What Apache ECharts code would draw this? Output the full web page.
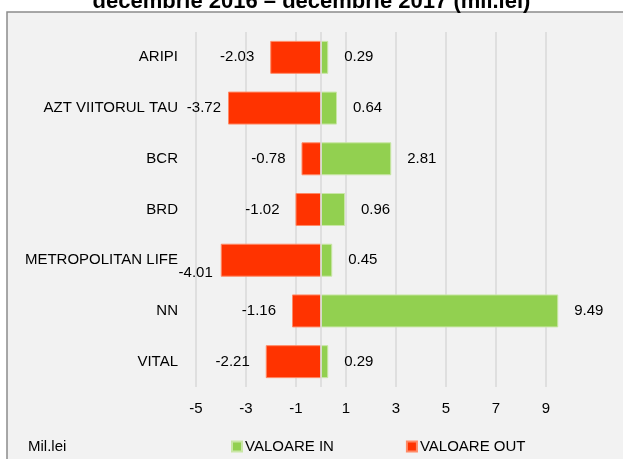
<!DOCTYPE html>
<html>
<head>
<meta charset="utf-8">
<script src="https://cdn.jsdelivr.net/npm/echarts@6/dist/echarts.min.js"></script>
<style>
html,body{margin:0;padding:0;background:#fff;}
#chart{width:623px;height:459px;}
</style>
</head>
<body>
<div id="chart"></div>
<script>
const titleText = 'decembrie 2016 – decembrie 2017 (mil.lei)';
const categories = ['ARIPI', 'AZT VIITORUL TAU', 'BCR', 'BRD', 'METROPOLITAN LIFE', 'NN', 'VITAL'];
const valoareIn = [0.29, 0.64, 2.81, 0.96, 0.45, 9.49, 0.29];
const valoareOut = [-2.03, -3.72, -0.78, -1.02, -4.01, -1.16, -2.21];
const seriesNames = ['VALOARE IN', 'VALOARE OUT'];
const unitLabel = 'Mil.lei';
const axisMin = -5, axisMax = 11, axisStep = 2;

// label placement tweaks (style only)
const outLabelTweaks = {
  1: { distance: 7 },
  4: { distance: 8, offset: [0, 13] }
};

const FONT = '"Liberation Sans", Arial, sans-serif';
const FS = 15;
const chart = echarts.init(document.getElementById('chart'), null, { renderer: 'canvas' });

const outData = valoareOut.map((v, i) => {
  const t = outLabelTweaks[i];
  return t ? { value: v, label: Object.assign({}, t) } : v;
});

const option = {
  backgroundColor: '#ffffff',
  animation: false,
  textStyle: { fontFamily: FONT },
  graphic: [
    {
      type: 'rect', z: -10, silent: true,
      shape: { x: 7, y: 12, width: 640, height: 470 },
      style: { fill: '#f2f2f2', stroke: '#8c8c8c', lineWidth: 1.5 }
    },
    {
      type: 'text', left: 28, top: 439, silent: true,
      style: { text: unitLabel, font: FS + 'px ' + FONT, fill: '#000' }
    }
  ],
  title: {
    text: titleText,
    left: 'center',
    top: -14,
    textStyle: { fontFamily: FONT, fontWeight: 'bold', fontSize: 22, color: '#000' }
  },
  legend: {
    data: seriesNames,
    left: 226,
    top: 434,
    itemWidth: 10,
    itemHeight: 10,
    itemGap: 72,
    icon: 'rect',
    textStyle: { fontFamily: FONT, fontSize: FS, color: '#000', padding: [0, 0, 0, -2] }
  },
  grid: { left: 196, right: 27, top: 32, bottom: 72, containLabel: false, outerBoundsMode: 'none' },
  xAxis: {
    type: 'value',
    min: axisMin, max: axisMax, interval: axisStep,
    axisLine: { show: false },
    axisTick: { show: false },
    axisLabel: {
      showMaxLabel: false,
      margin: 14,
      fontFamily: FONT, fontSize: FS, color: '#000'
    },
    splitLine: { show: true, showMaxLine: false, lineStyle: { color: '#d9d9d9', width: 1.5 } }
  },
  yAxis: {
    type: 'category',
    data: categories,
    inverse: true,
    axisLine: { show: false },
    axisTick: { show: false },
    axisLabel: { margin: 18, fontFamily: FONT, fontSize: FS, color: '#000' },
    splitLine: { show: false }
  },
  series: [
    {
      name: seriesNames[0],
      type: 'bar',
      stack: 'total',
      data: valoareIn,
      barCategoryGap: '35%',
      itemStyle: { color: '#92d050', borderColor: '#c9e6a6', borderWidth: 1 },
      label: {
        show: true, position: 'right', distance: 16,
        fontFamily: FONT, fontSize: FS, color: '#000',
        formatter: p => p.value.toFixed(2)
      },
      markLine: {
        silent: true, symbol: 'none', label: { show: false },
        lineStyle: { color: '#d9d9d9', type: 'solid', width: 1.5 },
        data: [{ xAxis: 0 }]
      }
    },
    {
      name: seriesNames[1],
      type: 'bar',
      stack: 'total',
      data: outData,
      barCategoryGap: '35%',
      itemStyle: { color: '#ff3300', borderColor: '#ff8a66', borderWidth: 1 },
      label: {
        show: true, position: 'left', distance: 16,
        fontFamily: FONT, fontSize: FS, color: '#000',
        formatter: p => p.value.toFixed(2)
      }
    }
  ]
};
chart.setOption(option);
</script>
</body>
</html>
